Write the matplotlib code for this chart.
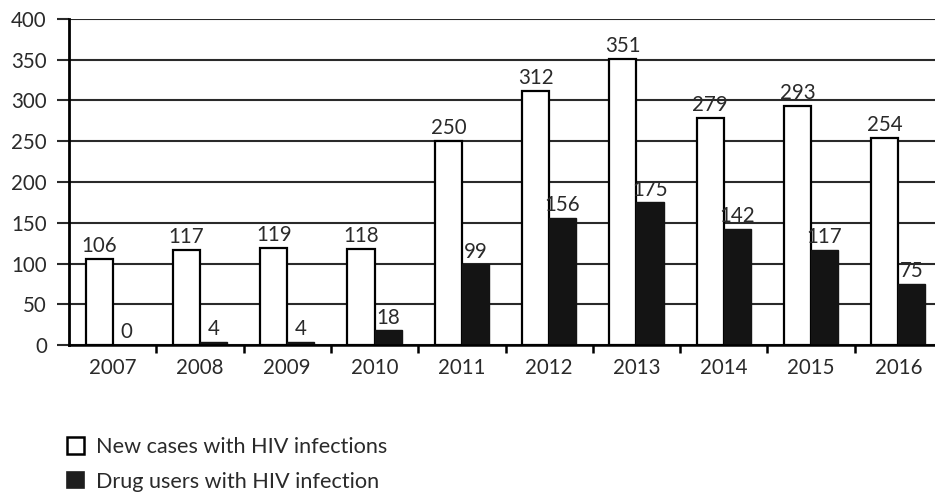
import matplotlib.pyplot as plt
import numpy as np

years = ["2007", "2008", "2009", "2010", "2011", "2012", "2013", "2014", "2015", "2016"]
new_cases = [106, 117, 119, 118, 250, 312, 351, 279, 293, 254]
drug_users = [0, 4, 4, 18, 99, 156, 175, 142, 117, 75]
y_ticks = [0, 50, 100, 150, 200, 250, 300, 350, 400]

plt.rcParams["font.family"] = ["Lato", "DejaVu Sans"]
text_color = "#2a2a2a"
fs = 14.8

fig = plt.figure(figsize=(9.35, 4.93), dpi=100)
ax = fig.add_axes([69 / 935, 1 - 345 / 493, 873 / 935, 326 / 493])

x = np.arange(len(years))
w = 0.31

ax.bar(x - w / 2, new_cases, width=w, color="white", edgecolor="black", linewidth=1.6, zorder=3)
ax.bar(x + w / 2, drug_users, width=w, color="#141414", edgecolor="#141414", linewidth=1.0, zorder=3)

# value labels on top of each bar
for i in range(len(years)):
    ax.annotate(str(new_cases[i]), (x[i] - w / 2, new_cases[i]), xytext=(0, 2),
                textcoords="offset points", ha="center", va="bottom",
                fontsize=fs, color=text_color)
    ax.annotate(str(drug_users[i]), (x[i] + w / 2, drug_users[i]), xytext=(0, 2),
                textcoords="offset points", ha="center", va="bottom",
                fontsize=fs, color=text_color)

ax.set_xlim(-0.5, len(years) - 0.5)
ax.set_ylim(0, 400)
ax.set_yticks(y_ticks)
ax.set_yticklabels([str(t) for t in y_ticks])
ax.grid(axis="y", color="#2a2a2a", linewidth=1.5, zorder=0)

# year labels centered, ticks between categories
ax.set_xticks(x)
ax.set_xticklabels(years)
ax.set_xticks(np.arange(len(years)) + 0.5, minor=True)
ax.tick_params(axis="x", which="major", length=0, pad=9, labelsize=fs, labelcolor=text_color)
ax.tick_params(axis="x", which="minor", length=6, width=1.8, color="black", direction="out")
ax.tick_params(axis="y", length=9, width=1.5, color="#2a2a2a", pad=7, labelsize=fs, labelcolor=text_color)

for side in ["top", "right"]:
    ax.spines[side].set_visible(False)
ax.spines["left"].set_linewidth(2.0)
ax.spines["bottom"].set_linewidth(1.8)
ax.spines["left"].set_zorder(4)
ax.spines["bottom"].set_zorder(4)

h1 = plt.Rectangle((0, 0), 1, 1, facecolor="white", edgecolor="black", linewidth=1.8)
h2 = plt.Rectangle((0, 0), 1, 1, facecolor="#1e1e1e", edgecolor="#1e1e1e", linewidth=1.2)
leg = fig.legend([h1, h2], ["New cases with HIV infections", "Drug users with HIV infection"],
                 loc="upper left", bbox_to_anchor=(67 / 935, 1 - 437 / 493),
                 frameon=False, fontsize=15.6, handlelength=0.8, handleheight=0.8,
                 handletextpad=0.55, labelspacing=0.68, borderpad=0, borderaxespad=0)
for t in leg.get_texts():
    t.set_color(text_color)

fig.savefig("out.png", dpi=100)
